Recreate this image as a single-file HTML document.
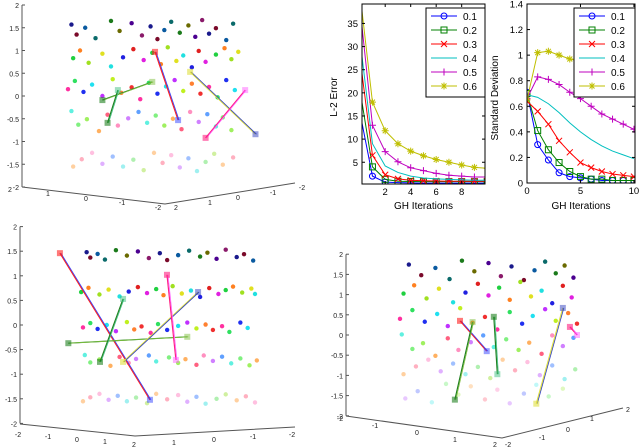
<!DOCTYPE html>
<html><head><meta charset="utf-8"><style>
html,body{margin:0;padding:0;background:#fff}
svg{display:block;font-family:"Liberation Sans",sans-serif}
</style></head><body>
<svg id="fig" width="640" height="448" viewBox="0 0 640 448" xmlns="http://www.w3.org/2000/svg">
<defs>
<clipPath id="c1"><rect x="362" y="4" width="123" height="180"/></clipPath>
<clipPath id="c2"><rect x="527" y="4" width="108" height="179"/></clipPath>
</defs>
<g id="g3d"></g>
<g id="gl1"></g>
<g id="gl2"></g>
</svg>
<script>
// ---- line chart data ----
const iterations = [0,1,2,3,4,5,6,7,8,9,10];
const seriesNames = ["0.1","0.2","0.3","0.4","0.5","0.6"];
const l2_01 = [16,2,0.7,0.6,0.55,0.5,0.5,0.5,0.5,0.5,0.5];
const l2_02 = [21,4,1.3,0.9,0.85,0.8,0.8,0.8,0.8,0.8,0.8];
const l2_03 = [28,6.5,2.3,1.4,1.1,1.0,0.95,0.9,0.9,0.9,0.9];
const l2_04 = [32,9,4.2,2.8,2.0,1.6,1.4,1.3,1.2,1.1,1.1];
const l2_05 = [39,13,7.3,5.1,3.8,3.2,2.6,2.2,2.0,1.8,1.8];
const l2_06 = [42,18,11.8,9,7.4,6.4,5.6,5.0,4.4,3.9,3.7];
const sd_01 = [0.71,0.30,0.18,0.08,0.05,0.04,0.03,0.02,0.02,0.02,0.02];
const sd_02 = [0.70,0.41,0.26,0.16,0.09,0.05,0.03,0.03,0.02,0.02,0.02];
const sd_03 = [0.64,0.56,0.46,0.33,0.24,0.16,0.12,0.09,0.07,0.06,0.05];
const sd_04 = [0.69,0.67,0.62,0.55,0.47,0.40,0.34,0.29,0.25,0.22,0.19];
const sd_05 = [0.66,0.83,0.81,0.77,0.71,0.66,0.60,0.54,0.50,0.46,0.42];
const sd_06 = [0.65,1.02,1.03,1.00,0.97,0.95,0.93,0.91,0.89,0.87,0.84];
const l2YTicks = [5,10,15,20,25,30,35];
const l2XTicks = [2,4,6,8];
const sdYTicks = [0,0.2,0.4,0.6,0.8,1,1.2,1.4];
const sdXTicks = [0,5,10];

// ---- 3D scatter data (u: 0..1 horizontal, z: vertical data) ----
const jitter = [0.12,-0.1,0.05,-0.18,0.2,-0.02,0.15,-0.12,0.08,-0.2,0.0,0.18,-0.06,0.1,-0.15,0.22,-0.08,0.04,-0.22,0.14,-0.1,0.06,0.2,-0.04];
const aLayerZ = [1.45,0.85,0.15,-0.55,-1.45];
const aLayerU = [
 [0.02,0.05,0.1,0.16,0.25,0.3,0.37,0.43,0.48,0.52,0.56,0.6,0.65,0.7,0.74,0.78,0.82,0.86,0.92,0.96],
 [0.03,0.07,0.12,0.2,0.25,0.32,0.38,0.44,0.49,0.54,0.58,0.63,0.67,0.72,0.76,0.8,0.86,0.91,0.95,0.99],
 [0.0,0.04,0.09,0.14,0.2,0.26,0.31,0.37,0.42,0.47,0.52,0.57,0.62,0.67,0.72,0.77,0.82,0.87,0.92,0.97],
 [0.02,0.06,0.11,0.18,0.23,0.29,0.35,0.41,0.46,0.51,0.56,0.61,0.66,0.71,0.76,0.81,0.86,0.9,0.95],
 [0.03,0.08,0.14,0.2,0.26,0.32,0.38,0.44,0.5,0.55,0.6,0.65,0.7,0.75,0.8,0.85,0.9,0.96]
];
const bLayerZ = [1.42,0.68,-0.05,-0.72,-1.5];
const bLayerU = [
 [0.08,0.1,0.14,0.18,0.24,0.3,0.36,0.42,0.48,0.52,0.58,0.64,0.7,0.74,0.79,0.84,0.9,0.94,0.99],
 [0.05,0.09,0.15,0.2,0.26,0.31,0.36,0.41,0.46,0.5,0.55,0.6,0.65,0.7,0.75,0.8,0.84,0.88,0.93,0.98,1.0],
 [0.06,0.1,0.14,0.19,0.24,0.3,0.34,0.38,0.43,0.47,0.52,0.58,0.63,0.68,0.73,0.77,0.82,0.86,0.92,0.96],
 [0.07,0.1,0.15,0.21,0.26,0.31,0.35,0.42,0.46,0.53,0.58,0.62,0.68,0.72,0.77,0.82,0.87,0.92,0.97,1.01],
 [0.06,0.1,0.15,0.2,0.25,0.3,0.35,0.41,0.46,0.52,0.58,0.63,0.68,0.73,0.79,0.84,0.9,0.95,1.0]
];
const cLayerZ = [1.6,1.05,0.4,-0.25,-0.85,-1.45];
const cLayerU = [
 [0.05,0.12,0.2,0.28,0.35,0.42,0.5,0.57,0.63,0.7,0.76,0.82,0.88,0.93,0.98],
 [0.02,0.08,0.15,0.22,0.3,0.37,0.44,0.5,0.56,0.62,0.68,0.74,0.8,0.86,0.92,0.97],
 [0.0,0.07,0.14,0.21,0.27,0.34,0.41,0.48,0.55,0.62,0.69,0.75,0.82,0.88,0.95,1.0],
 [0.01,0.07,0.13,0.2,0.27,0.33,0.4,0.47,0.53,0.6,0.67,0.73,0.8,0.86,0.92,0.98],
 [0.02,0.09,0.16,0.23,0.3,0.37,0.44,0.51,0.58,0.65,0.72,0.79,0.86,0.93,0.99],
 [0.03,0.1,0.18,0.26,0.33,0.4,0.48,0.55,0.62,0.7,0.77,0.84,0.92]
];
const aSegU1=[0.506,0.2,0.23,0.71,0.8], aSegZ1=[0.97,-0.09,-0.59,0.53,-0.92];
const aSegU2=[0.64,0.49,0.29,1.09,1.03], aSegZ2=[-0.53,0.31,0.13,-0.84,0.13];
const bSegU1=[-0.066,-0.02,0.153,0.279,0.519], bSegZ1=[1.46,-0.37,-0.75,-0.75,1.02];
const bSegU2=[0.426,0.63,0.279,0.689,0.568], bSegZ2=[-1.52,-0.24,0.53,0.67,-0.71];
const cSegU1=[0.339,0.31,0.53,0.77,0.96], cSegZ1=[0.35,-1.6,0.45,-1.7,0.2];
const cSegU2=[0.49,0.41,0.55,0.92,1.0], cSegZ2=[-0.4,0.32,-0.97,0.67,0.0];

const NS="http://www.w3.org/2000/svg";
function mk(parent,tag,attrs,txt){const e=document.createElementNS(NS,tag);for(const k in attrs)e.setAttribute(k,attrs[k]);if(txt!==undefined)e.textContent=txt;parent.appendChild(e);return e;}

// ---------- 3D panels ----------
const pals=[
 ['#1a1a8c','#0a6a6a','#4b0090','#7a0a2a','#1b7a1b','#8a1a6a','#0a5aa0','#6a6a00'],
 ['#2020e0','#20d040','#e0e020','#e02020','#ff8020','#20e0e0','#e020e0','#a0e020'],
 ['#2030f0','#c0f020','#ff30a0','#20e0f0','#ff8030','#30e060','#c030ff','#f03030'],
 ['#60a0ff','#a0f060','#ff90c0','#60f0e0','#ffb060','#d080ff','#80f080','#ff6080'],
 ['#a0c0ff','#d0f0a0','#ffc0e0','#a0f0f0','#ffd0a0','#e0b0ff','#b0f0b0','#ffb0c0'],
 ['#c0c8ff','#e0f8c0','#ffd0e8','#c0f8f8','#ffe0c0','#e8c8ff','#c8f8c8','#ffc8d0']
];
const segCols=[['#ff2020','#3040ff'],['#208020','#80c040'],['#208020','#40c080'],['#e0e040','#3040c0'],['#ff2080','#ff60ff'],['#40c0c0','#208060']];
const g3=document.getElementById('g3d');
function panel(name,o){
  const g=mk(g3,'g',{});
  
  
  const sx=u=>o.x0+u*o.w, sy=z=>o.zy0-z*o.zs;
  const ax=mk(g,'line',{x1:o.ax,y1:sy(2),x2:o.ax,y2:sy(-2),stroke:'#555','stroke-width':1});
  
  [2,1.5,1,0.5,0,-0.5,-1,-1.5,-2].forEach(t=>{
    mk(g,'line',{x1:o.ax,y1:sy(t),x2:o.ax+3,y2:sy(t),stroke:'#555'});
    const tl=mk(g,'text',{x:o.ax-3,y:sy(t)+3,'font-size':7,'text-anchor':'end',fill:'#222'},String(t));
    
  });
  const b=mk(g,'polyline',{points:o.base,fill:'none',stroke:'#555','stroke-width':1});
  
  o.blabels.forEach(l=>{const t=mk(g,'text',{x:l[0],y:l[1],'font-size':7,fill:'#222','text-anchor':'middle'},l[2]);
    });
  o.layerU.forEach((arr,li)=>{
    arr.forEach((u,i)=>{
      const z=o.layerZ[li]+jitter[(i+li*5)%jitter.length]*o.jit;
      const c=mk(g,'circle',{cx:sx(u),cy:sy(z),r:2.2,fill:pals[Math.min(li+o.palOff,5)][(i*3+li)%8]});
      
      
    });
  });
  o.su1.forEach((u,i)=>{
    const x1=sx(u),y1=sy(o.sz1[i]),x2=sx(o.su2[i]),y2=sy(o.sz2[i]);
    const cc=segCols[i%segCols.length];
    const l=mk(g,'line',{x1:x1,y1:y1,x2:x2,y2:y2,stroke:cc[0],'stroke-width':1.2});
    
    mk(g,'line',{x1:x1+1,y1:y1,x2:x2+1,y2:y2,stroke:cc[1],'stroke-width':0.8});
    const s=mk(g,'rect',{x:x1-3,y:y1-3,width:6,height:6,fill:cc[0],opacity:0.6});
    
    const s2=mk(g,'rect',{x:x2-3,y:y2-3,width:6,height:6,fill:cc[1],opacity:0.5});
    
  });
}
panel('scatter-3d-top-left',{x0:68,w:172,zy0:96,zs:45.5,ax:22,jit:1,palOff:0,layerU:aLayerU,layerZ:aLayerZ,
 base:'22,187 165,204 295,183',
 blabels:[[10,192,'2'],[48,196,'1'],[86,201,'0'],[122,205,'-1'],[158,210,'-2'],[176,210,'2'],[210,205,'1'],[238,200,'0'],[273,195,'-1'],[302,190,'-2']],
 su1:aSegU1,sz1:aSegZ1,su2:aSegU2,sz2:aSegZ2});
panel('scatter-3d-bottom-left',{x0:72,w:183,zy0:325,zs:49.2,ax:20,jit:0.5,palOff:0,layerU:bLayerU,layerZ:bLayerZ,
 base:'20,424 135,436 295,427',
 blabels:[[18,437,'-2'],[48,439,'-1'],[77,442,'0'],[105,444,'1'],[134,447,'2'],[174,445,'1'],[214,442,'0'],[253,439,'-1'],[292,437,'-2']],
 su1:bSegU1,sz1:bSegZ1,su2:bSegU2,sz2:bSegZ2});
panel('scatter-3d-bottom-right',{x0:400,w:177,zy0:335,zs:40.4,ax:346,jit:1.2,palOff:0,layerU:cLayerU,layerZ:cLayerZ,
 base:'346,416 502,438 623,408',
 blabels:[[340,421,'-2'],[375,428,'-1'],[417,435,'0'],[455,442,'1'],[495,447,'2'],[508,447,'-2'],[542,440,'-1'],[568,432,'0'],[592,421,'1'],[628,412,'2']],
 su1:cSegU1,sz1:cSegZ1,su2:cSegU2,sz2:cSegZ2});

// ---------- line charts ----------
const cols=['#0000ff','#008000','#ff0000','#00bfbf','#bf00bf','#bfbf00'];
const markers=['o','s','x',null,'+','*'];
function marker(g,m,x,y,c){
  if(!m)return;
  let e;
  if(m==='o')e=mk(g,'circle',{cx:x,cy:y,r:3,fill:'none',stroke:c,'stroke-width':1});
  else if(m==='s')e=mk(g,'rect',{x:x-3,y:y-3,width:6,height:6,fill:'none',stroke:c,'stroke-width':1});
  else{let d='';
    if(m==='x')d=`M${x-3} ${y-3}L${x+3} ${y+3}M${x-3} ${y+3}L${x+3} ${y-3}`;
    if(m==='+')d=`M${x-3.5} ${y}L${x+3.5} ${y}M${x} ${y-3.5}L${x} ${y+3.5}`;
    if(m==='*')d=`M${x-3.5} ${y}L${x+3.5} ${y}M${x} ${y-3.5}L${x} ${y+3.5}M${x-2.5} ${y-2.5}L${x+2.5} ${y+2.5}M${x-2.5} ${y+2.5}L${x+2.5} ${y-2.5}`;
    e=mk(g,'path',{d:d,stroke:c,'stroke-width':1,fill:'none'});}
  
}
function lineChart(gid,o){
  const g=document.getElementById(gid);
  const sx=v=>o.L+(v-o.xmin)/(o.xmax-o.xmin)*(o.R-o.L);
  const sy=v=>o.B-(v-o.ymin)/(o.ymax-o.ymin)*(o.B-o.T);
  const plot=mk(g,'g',{'clip-path':`url(#${o.clip})`});
  o.series.forEach((s,k)=>{
    const pts=o.xs.map((x,i)=>sx(x)+','+sy(s[i])).join(' ');
    const pl=mk(plot,'polyline',{points:pts,fill:'none',stroke:cols[k],'stroke-width':1});
    
    
    o.xs.forEach((x,i)=>{ if(i>0||o.markFirst) marker(plot,markers[k],sx(x),sy(s[i]),cols[k]); });
  });
  const fr=mk(g,'rect',{x:o.L,y:o.T,width:o.R-o.L,height:o.B-o.T,fill:'none',stroke:'#000','stroke-width':1});
  
  o.yt.forEach(t=>{const y=sy(t);
    mk(g,'line',{x1:o.L,y1:y,x2:o.L+3,y2:y,stroke:'#000'});
    mk(g,'line',{x1:o.R,y1:y,x2:o.R-3,y2:y,stroke:'#000'});
    const tl=mk(g,'text',{x:o.L-4,y:y+3.5,'font-size':9.5,'text-anchor':'end'},String(t));
    });
  o.xt.forEach(t=>{const x=sx(t);
    mk(g,'line',{x1:x,y1:o.B,x2:x,y2:o.B-3,stroke:'#000'});
    mk(g,'line',{x1:x,y1:o.T,x2:x,y2:o.T+3,stroke:'#000'});
    const tl=mk(g,'text',{x:x,y:o.B+11,'font-size':9.5,'text-anchor':'middle'},String(t));
    });
  const xl=mk(g,'text',{x:(o.L+o.R)/2,y:209,'font-size':10,'text-anchor':'middle'},'GH Iterations');
  
  const yl=mk(g,'text',{x:o.ylx,y:o.yly,'font-size':10,'text-anchor':'middle',transform:`rotate(-90 ${o.ylx} ${o.yly})`},o.ylabel);
  
  const lg=mk(g,'g',{});
  
  mk(lg,'rect',{x:o.lgx,y:8,width:o.R-o.lgx,height:89,fill:'#fff',stroke:'#000','stroke-width':1});
  seriesNames.forEach((n,k)=>{const y=16+k*14;
    const le=mk(lg,'g',{});
    
    mk(le,'line',{x1:o.lgx+5,y1:y,x2:o.lgx+31,y2:y,stroke:cols[k],'stroke-width':1});
    marker(le,markers[k],o.lgx+18,y,cols[k]);
    mk(le,'text',{x:o.lgx+37,y:y+4,'font-size':10},n);});
}
lineChart('gl1',{L:362,R:485,T:4,B:184,xmin:0.18,xmax:9.83,ymin:0.3,ymax:39.2,xs:iterations,
 series:[l2_01,l2_02,l2_03,l2_04,l2_05,l2_06],yt:l2YTicks,xt:l2XTicks,clip:'c1',markFirst:false,
 ylabel:'L-2 Error',ylx:337,yly:97,lgx:426});
lineChart('gl2',{L:527,R:635,T:4,B:183,xmin:0,xmax:10.1,ymin:0,ymax:1.4,xs:iterations,
 series:[sd_01,sd_02,sd_03,sd_04,sd_05,sd_06],yt:sdYTicks,xt:sdXTicks,clip:'c2',markFirst:true,
 ylabel:'Standard Deviation',ylx:498,yly:98,lgx:574});
</script>
</body></html>
